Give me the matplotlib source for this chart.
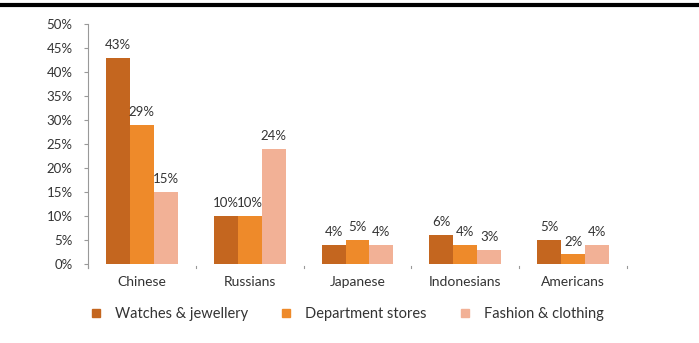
import numpy as np
import matplotlib
matplotlib.use('Agg')
import matplotlib.pyplot as plt
from matplotlib.lines import Line2D

# data
nationalities = ['Chinese', 'Russians', 'Japanese', 'Indonesians', 'Americans']
series_names = ['Watches & jewellery', 'Department stores', 'Fashion & clothing']
watches = [43, 10, 4, 6, 5]
department = [29, 10, 5, 4, 2]
fashion = [15, 24, 4, 3, 4]
y_ticks = [0, 5, 10, 15, 20, 25, 30, 35, 40, 45, 50]

colors = ['#C4661F', '#EE8A2A', '#F2B196']

plt.rcParams['font.family'] = ['Lato', 'DejaVu Sans']

fig = plt.figure(figsize=(6.99, 3.43), dpi=100)
ax = fig.add_axes([88 / 699, 1 - 264 / 343, (627 - 88) / 699, (264 - 24) / 343])

x = np.arange(len(nationalities))
width = 0.222
for i, (vals, name) in enumerate(zip([watches, department, fashion], series_names)):
    pos = x + (i - 1) * width
    ax.bar(pos, vals, width, color=colors[i], label=name)
    for px, v in zip(pos, vals):
        ax.text(px, v + 1.4, f'{v}%', ha='center', va='bottom', fontsize=9.5, color='#333333')

ax.set_xlim(-0.5, len(nationalities) - 0.5)
ax.set_ylim(0, 50)
ax.set_yticks(y_ticks)
ax.set_yticklabels([f'{t}%' for t in y_ticks], fontsize=9.5, color='#333333')
ax.set_xticks(x)
ax.set_xticklabels(nationalities, fontsize=10, color='#333333')
ax.tick_params(axis='x', length=0, pad=9)
ax.tick_params(axis='y', length=3, color='#999999', pad=8)

# small category separator ticks below the axis
for b in np.arange(-0.5, len(nationalities), 1.0):
    ax.plot([b, b], [-0.4, -0.9], color='#999999', lw=0.8, clip_on=False)

for s in ['top', 'right', 'bottom']:
    ax.spines[s].set_visible(False)
ax.spines['left'].set_color('#999999')
ax.spines['left'].set_bounds(-0.8, 50)

handles = [Line2D([], [], marker='s', linestyle='', markersize=6, color=c) for c in colors]
fig.legend(handles, series_names, loc='center', bbox_to_anchor=(0.49, 1 - 314 / 343),
           ncol=3, frameon=False, fontsize=10.5, handletextpad=0.3, columnspacing=1.6,
           labelcolor='#333333')

# thick black rule at the very top of the cropped image
fig.add_artist(Line2D([0, 1], [1 - 4.5 / 343, 1 - 4.5 / 343], color='black', lw=3,
                      transform=fig.transFigure))

fig.savefig('out.png', dpi=100)
